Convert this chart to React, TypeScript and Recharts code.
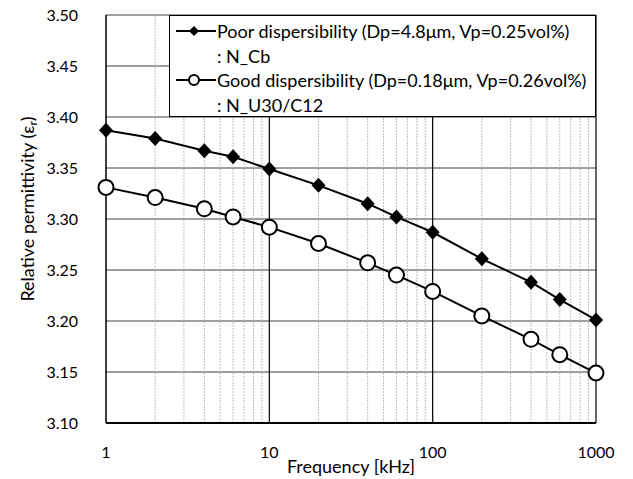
import { LineChart, Line, XAxis, YAxis, CartesianGrid, ReferenceLine } from "recharts"

// frequency [kHz]
const freqs = [1, 2, 4, 6, 10, 20, 40, 60, 100, 200, 400, 600, 1000]
// relative permittivity
const poorValues = [3.387, 3.379, 3.367, 3.361, 3.349, 3.333, 3.315, 3.302, 3.287, 3.261, 3.238, 3.221, 3.201]
const goodValues = [3.331, 3.321, 3.31, 3.302, 3.292, 3.276, 3.257, 3.245, 3.229, 3.205, 3.182, 3.167, 3.149]

const xTicks = [1, 10, 100, 1000]
const minorFreqs = [2, 3, 4, 5, 6, 7, 8, 9, 20, 30, 40, 50, 60, 70, 80, 90, 200, 300, 400, 500, 600, 700, 800, 900]
const majorFreqs = [10, 100, 1000]
const yTicks = [3.1, 3.15, 3.2, 3.25, 3.3, 3.35, 3.4, 3.45, 3.5]

const poorLabel = "Poor dispersibility (Dp=4.8μm, Vp=0.25vol%)"
const poorSub = ": N_Cb"
const goodLabel = "Good dispersibility (Dp=0.18μm, Vp=0.26vol%)"
const goodSub = ": N_U30/C12"

const data = freqs.map((f, i) => ({ f, poor: poorValues[i], good: goodValues[i] }))

const FONT = "Lato, 'Liberation Sans', sans-serif"

const Diamond = (props: any) => {
  const { cx, cy } = props
  if (cx == null || cy == null) return null
  const rx = 7
  const ry = 7.5
  return <polygon points={`${cx},${cy - ry} ${cx + rx},${cy} ${cx},${cy + ry} ${cx - rx},${cy}`} fill="#000" />
}

const Circle = (props: any) => {
  const { cx, cy } = props
  if (cx == null || cy == null) return null
  return <circle cx={cx} cy={cy} r={7.5} fill="#fff" stroke="#000" strokeWidth={2} />
}

const YLabel = (props: any) => {
  const { viewBox } = props
  const cy = viewBox.y + viewBox.height / 2 - 10
  const x = 34
  return (
    <text x={x} y={cy} transform={`rotate(-90, ${x}, ${cy})`} textAnchor="middle" fontSize={18} fontFamily={FONT} fill="#000">
      Relative permittivity (ε<tspan fontSize={12} dy={3}>r</tspan><tspan dy={-3}>)</tspan>
    </text>
  )
}

const XLabel = (props: any) => {
  const { viewBox } = props
  const cx = viewBox.x + viewBox.width / 2
  return (
    <text x={cx} y={473} textAnchor="middle" fontSize={18} fontFamily={FONT} fill="#000">
      Frequency [kHz]
    </text>
  )
}

function LegendBox() {
  const row = { display: "flex", alignItems: "center", height: 24.5, whiteSpace: "nowrap" as const }
  return (
    <div
      style={{
        position: "absolute",
        left: 169,
        top: 15,
        width: 427,
        height: 102,
        boxSizing: "border-box",
        border: "1px solid #000",
        background: "#fff",
        fontFamily: FONT,
        fontSize: 18,
        color: "#000",
        paddingTop: 3,
      }}
    >
      <div style={row}>
        <svg width={46} height={16}>
          <line x1={6} y1={8} x2={46} y2={8} stroke="#000" strokeWidth={2} />
          <polygon points="24,3 29,8 24,13 19,8" fill="#000" />
        </svg>
        <span style={{ marginLeft: 1 }}>{poorLabel}</span>
      </div>
      <div style={{ ...row, paddingLeft: 47 }}>{poorSub}</div>
      <div style={row}>
        <svg width={46} height={16}>
          <line x1={6} y1={8} x2={46} y2={8} stroke="#000" strokeWidth={2} />
          <circle cx={24} cy={8} r={5} fill="#fff" stroke="#000" strokeWidth={2} />
        </svg>
        <span style={{ marginLeft: 1 }}>{goodLabel}</span>
      </div>
      <div style={{ ...row, paddingLeft: 47 }}>{goodSub}</div>
    </div>
  )
}

export default function App() {
  return (
    <div style={{ position: "absolute", left: 0, top: 0, width: 633, height: 479, background: "#fff" }}>
      <LineChart width={633} height={479} data={data} margin={{ top: 15, right: 37, bottom: 26, left: 20 }}>
        <CartesianGrid vertical={false} stroke="#7f7f7f" strokeWidth={1.5} />
        {minorFreqs.map((f) => (
          <ReferenceLine key={f} x={f} stroke="#bfbfbf" strokeDasharray="2 1" />
        ))}
        {majorFreqs.map((f) => (
          <ReferenceLine key={"m" + f} x={f} stroke="#000" strokeWidth={1.2} />
        ))}
        <XAxis
          dataKey="f"
          type="number"
          scale="log"
          domain={[1, 1000]}
          ticks={xTicks}
          tickLine={false}
          axisLine={{ stroke: "#000", strokeWidth: 2 }}
          tickMargin={18}
          height={30}
          tick={{ fill: "#000", fontSize: 16, fontFamily: FONT }}
          label={<XLabel />}
        />
        <YAxis
          type="number"
          domain={[3.1, 3.5]}
          ticks={yTicks}
          tickFormatter={(v: number) => v.toFixed(2)}
          tickLine={false}
          axisLine={{ stroke: "#000", strokeWidth: 1.5 }}
          width={86}
          tickMargin={22}
          tick={{ fill: "#000", fontSize: 16, fontFamily: FONT }}
          label={<YLabel />}
        />
        <Line dataKey="poor" stroke="#000" strokeWidth={2} dot={<Diamond />} isAnimationActive={false} />
        <Line dataKey="good" stroke="#000" strokeWidth={2} dot={<Circle />} isAnimationActive={false} />
      </LineChart>
      <LegendBox />
    </div>
  )
}
